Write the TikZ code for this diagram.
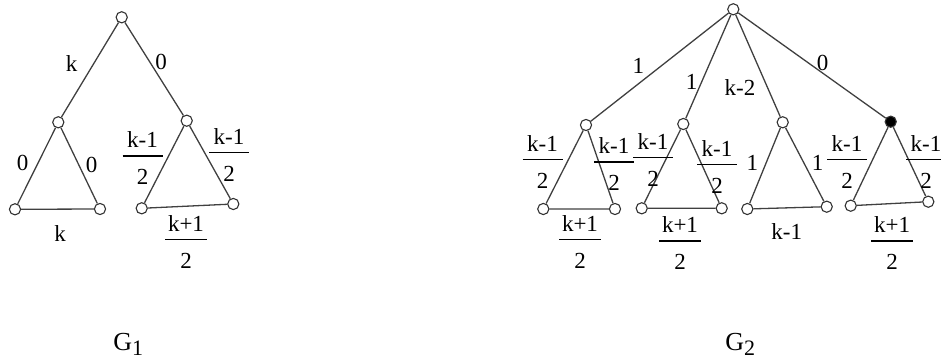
\documentclass[tikz,border=0pt]{standalone}
\usepackage{fontspec}
\setmainfont{Liberation Serif}
\newcommand\fr[3][20pt]{\vbox{\offinterlineskip\hbox to #1{\hss #2\hss}\kern3.75pt\hrule height .55pt\kern 6.6pt\hbox to #1{\hss #3\hss}}}
\begin{document}
\begin{tikzpicture}[x=0.5pt,y=-0.5pt,
  vtx/.style={circle,draw=black!80,fill=white,line width=0.55pt,inner sep=0pt,minimum size=5.6pt},
  full/.style={vtx,fill=black},
  edge/.style={draw=black!75,line width=0.65pt},
  lab/.style={inner sep=0pt,font=\fontsize{11.5pt}{13pt}\selectfont},
  glab/.style={inner sep=0pt,anchor=base west,font=\fontsize{13pt}{15pt}\selectfont}]
\useasboundingbox (0,0) rectangle (941,363);
% ---------- G1 ----------
\node[vtx] (r) at (121.7,17.3) {};
\node[vtx] (a) at (58.3,122.3) {};
\node[vtx] (b) at (186.7,120.7) {};
\node[vtx] (a1) at (15,209.3) {};
\node[vtx] (a2) at (100,209) {};
\node[vtx] (b1) at (141.7,208.3) {};
\node[vtx] (b2) at (233.3,204) {};
\path[edge] (r)--(a) (r)--(b) (a)--(a1) (a)--(a2) (a1)--(a2)
  (b)--(b1) (b)--(b2) (b1)--(b2);
\node[lab] (l1) at (71.7,63.3) {k};
\node[lab] (l2) at (161,61.7) {0};
\node[lab] (l3) at (22.7,163.3) {0};
\node[lab] (l4) at (91.7,165) {0};
\node[lab] (l5) at (60,233.3) {k};
\node[lab] (f1) at (142.5,158.5) {\fr{k-1}{2}};
\node[lab] (f2) at (229,155.1) {\fr{k-1}{2}};
\node[lab] (f3) at (186,241.8) {\fr[21pt]{k+1}{2}};
\node[glab] (g1) at (113,350) {G\raisebox{-2.5pt}{\fontsize{11pt}{13pt}\selectfont 1}};
% ---------- G2 ----------
\node[vtx] (R) at (733.3,9.3) {};
\node[vtx] (c1) at (586,125) {};
\node[vtx] (c2) at (683.3,124) {};
\node[vtx] (c3) at (782.7,122.3) {};
\node[full] (c4) at (890.7,121.7) {};
\node[vtx] (d1) at (543.3,209) {};
\node[vtx] (e1) at (615,209) {};
\node[vtx] (d2) at (641.7,208.3) {};
\node[vtx] (e2) at (721.7,208.3) {};
\node[vtx] (d3) at (747.3,209) {};
\node[vtx] (e3) at (826.7,206.7) {};
\node[vtx] (d4) at (850.7,205.7) {};
\node[vtx] (e4) at (928.3,201.7) {};
\path[edge] (R)--(c1) (R)--(c2) (R)--(c3) (R)--(c4)
  (c1)--(d1) (c1)--(e1) (d1)--(e1)
  (c2)--(d2) (c2)--(e2) (d2)--(e2)
  (c3)--(d3) (c3)--(e3) (d3)--(e3)
  (c4)--(d4) (c4)--(e4) (d4)--(e4);
\node[lab] (m1) at (638.3,65.7) {1};
\node[lab] (m2) at (691.7,81.7) {1};
\node[lab] (m3) at (740,87.7) {k-2};
\node[lab] (m4) at (822.7,63.3) {0};
\node[lab] (m5) at (752.3,163.3) {1};
\node[lab] (m6) at (817.7,162.7) {1};
\node[lab] (m7) at (786.7,231.7) {k-1};
\node[lab] (s1l) at (542.5,162.1) {\fr{k-1}{2}};
\node[lab] (s1r) at (614,164.5) {\fr{k-1}{2}};
\node[lab] (s1b) at (580,241.8) {\fr[21pt]{k+1}{2}};
\node[lab] (s2l) at (653,160.1) {\fr{k-1}{2}};
\node[lab] (s2r) at (717,166.8) {\fr{k-1}{2}};
\node[lab] (s2b) at (680,243.5) {\fr[21pt]{k+1}{2}};
\node[lab] (s4l) at (847,162.1) {\fr{k-1}{2}};
\node[lab] (s4r) at (926,162.1) {\fr{k-1}{2}};
\node[lab] (s4b) at (892,243.5) {\fr[21pt]{k+1}{2}};
\node[glab] (g2) at (725,350) {G\raisebox{-2.5pt}{\fontsize{11pt}{13pt}\selectfont 2}};
\end{tikzpicture}
\end{document}
